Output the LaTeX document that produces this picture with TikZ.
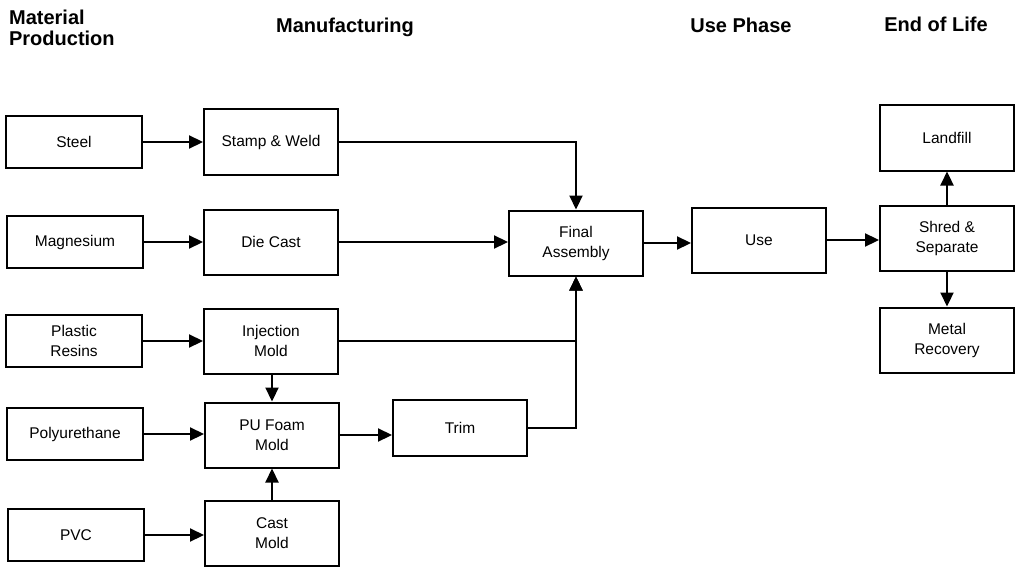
\documentclass[tikz,border=0pt]{standalone}
\usepackage{fontspec}
\setmainfont{Liberation Sans}
\usetikzlibrary{arrows.meta, positioning}
\tikzset{
  ->,
  >={Triangle[length=14pt,width=13pt]},
  node distance=197pt,
  stage/.style={draw, line width=2pt, minimum width=134pt, minimum height=65pt, align=center,
    font=\fontsize{15.5}{20}\selectfont},
  raw/.style={stage, minimum width=136pt, minimum height=52pt},
  heading/.style={font=\fontsize{20}{21}\selectfont\bfseries, inner sep=0pt},
}

\begin{document}
\begin{tikzpicture}[x=1pt, y=-1pt, line width=2.2pt]
      \useasboundingbox (0,0) rectangle (1016,567);

      % phase titles
      \node[heading,align=left,anchor=north west] (tmat) at (8,9) {Material\\Production};
      \node[heading,anchor=base] (tman) at (345,33) {Manufacturing};
      \node[heading,anchor=base] (tuse) at (741,33) {Use Phase};
      \node[heading,anchor=base] (teol) at (936,32) {End of Life};

      % material production
      \node[raw] (steel)  at (74,142) {Steel};
      \node[raw] (mg)     at (75,242) {Magnesium};
      \node[raw] (resin)  at (74,341) {Plastic\\Resins};
      \node[raw] (poly)   at (75,434) {Polyurethane};
      \node[raw] (pvc)    at (76,535) {PVC};

      % manufacturing
      \node[stage] (stamp)  at (271,142) {Stamp \& Weld};
      \node[stage] (die)    at (271,242) {Die Cast};
      \node[stage] (inject) at (271,341) {Injection\\Mold};
      \node[stage] (foam)   at (272,435) {PU Foam\\Mold};
      \node[stage] (cast)   at (272,533) {Cast\\Mold};
      \node[stage,minimum height=56pt] (trim) at (460,428) {Trim};
      \node[stage] (final) at (576,243) {Final\\Assembly};

      % use and end of life
      \node[stage] (use)      at (759,240) {Use};
      \node[stage] (shred)    at (947,238) {Shred \&\\Separate};
      \node[stage] (landfill) at (947,138) {Landfill};
      \node[stage] (metal)    at (947,340) {Metal\\Recovery};

      \draw (steel) -- (stamp);
      \draw (mg)    -- (die);
      \draw (resin) -- (inject);
      \draw (poly.east) -- (poly.east -| foam.west);
      \draw (pvc.east) -- (pvc.east -| cast.west);
      \draw (inject.south -| foam) -- (foam);
      \draw (cast)   -- (foam);
      \draw (foam.east) -- (foam.east -| trim.west);
      \draw (stamp) -| (final);
      \draw (die.east) -- (die.east -| final.west);
      \draw (inject) -| (final);
      \draw (trim)   -| (final);
      \draw (final.east) -- (final.east -| use.west);
      \draw (use.east) -- (use.east -| shred.west);
      \draw (shred) -- (landfill);
      \draw (shred) -- (metal);
    \end{tikzpicture}
\end{document}
